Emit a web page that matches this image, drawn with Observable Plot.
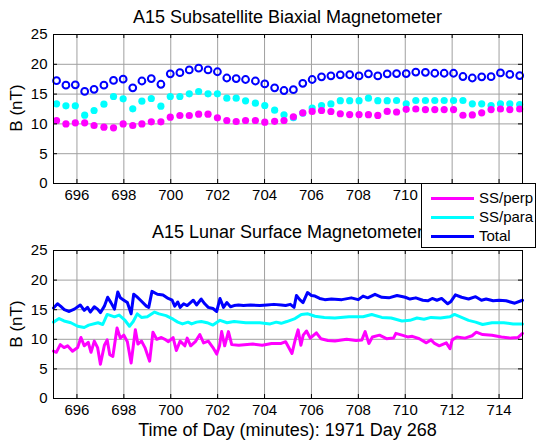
<!DOCTYPE html>
<html><head><meta charset="utf-8">
<script src="https://cdn.jsdelivr.net/npm/d3@7"></script>
<script src="https://cdn.jsdelivr.net/npm/@observablehq/plot@0.6"></script>
<style>
body{margin:0;background:#fff;}
#wrap{position:relative;width:537px;height:445px;overflow:hidden;font-family:"Liberation Sans",Arial,sans-serif;color:#000;}
.abs{position:absolute;}
.ttl{font-size:18px;line-height:20px;text-align:center;white-space:nowrap;}
.ylab{font-size:17px;line-height:20px;width:100px;text-align:center;transform:rotate(-90deg);white-space:nowrap;}
#legend{position:absolute;left:421px;top:183px;width:115px;height:65px;box-sizing:border-box;border:1px solid #000;background:#fff;font-size:15px;z-index:5;}
.lrow{position:absolute;left:0;height:18px;width:110px;}
.lline{position:absolute;left:9px;width:43px;height:3px;top:8px;}
.ltxt{position:absolute;left:57px;top:0;line-height:18px;white-space:nowrap;}
</style></head>
<body><div id="wrap"></div>
<script>
// ---- axis ticks ----
const xTicks = [696, 698, 700, 702, 704, 706, 708, 710, 712, 714];
const yTicks = [0, 5, 10, 15, 20, 25];

// ---- A15 Subsatellite (top) ----
const ssTime = [695.13, 695.53, 695.93, 696.33, 696.73, 697.15, 697.56, 697.97, 698.38, 698.77, 699.17, 699.58, 699.98, 700.39, 700.79, 701.19, 701.59, 701.99, 702.39, 702.79, 703.19, 703.61, 704.01, 704.43, 704.83, 705.23, 705.63, 706.03, 706.43, 706.83, 707.23, 707.63, 708.03, 708.43, 708.83, 709.23, 709.63, 710.04, 710.45, 710.86, 711.26, 711.66, 712.06, 712.46, 712.86, 713.26, 713.66, 714.06, 714.46, 714.88];
const ssPerp = [10.57, 10.0, 10.18, 10.18, 9.73, 9.45, 9.34, 10.0, 9.73, 10.0, 10.35, 10.35, 11.12, 11.41, 11.41, 11.63, 11.63, 11.02, 10.57, 10.4, 10.57, 10.57, 10.29, 10.43, 10.57, 11.18, 11.85, 12.1, 12.25, 12.08, 11.7, 11.57, 11.57, 11.55, 11.43, 12.1, 12.0, 12.45, 12.5, 12.4, 12.4, 12.4, 12.4, 11.45, 11.5, 11.85, 12.4, 12.5, 12.4, 12.5];
const ssPara = [13.37, 13.03, 13.03, 11.46, 12.25, 13.31, 14.6, 14.2, 12.53, 13.81, 14.26, 12.97, 14.6, 14.6, 15.05, 15.44, 15.05, 15.05, 14.31, 14.31, 13.87, 13.47, 13.09, 12.3, 11.52, 11.05, 11.8, 12.65, 13.09, 13.35, 13.9, 13.9, 13.9, 14.31, 13.9, 13.9, 13.93, 13.37, 13.93, 13.93, 13.93, 13.93, 13.93, 13.93, 13.37, 13.37, 13.09, 13.37, 13.37, 13.25];
const ssTotal = [17.25, 16.5, 16.55, 15.45, 15.8, 16.5, 17.3, 17.5, 16.05, 17.2, 17.6, 16.65, 18.4, 18.6, 19.05, 19.35, 19.05, 18.75, 17.7, 17.6, 17.45, 17.2, 16.7, 16.05, 15.6, 15.75, 16.8, 17.45, 17.9, 18.07, 18.23, 18.25, 18.05, 18.4, 18.05, 18.4, 18.45, 18.45, 18.7, 18.65, 18.5, 18.5, 18.5, 17.95, 17.7, 17.9, 17.92, 18.55, 18.3, 18.1];

// ---- A15 Lunar Surface (bottom) ----
const lsTotalTime = [695.0, 695.17, 695.3, 695.46, 695.67, 695.89, 696.14, 696.31, 696.45, 696.57, 696.74, 696.88, 697.0, 697.17, 697.31, 697.45, 697.6, 697.74, 697.85, 698.0, 698.15, 698.31, 698.42, 698.55, 698.71, 698.96, 699.06, 699.2, 699.43, 699.67, 699.89, 700.06, 700.17, 700.3, 700.4, 700.55, 700.7, 700.96, 701.1, 701.3, 701.45, 701.6, 701.8, 701.96, 702.1, 702.25, 702.39, 702.55, 702.7, 702.89, 703.1, 703.4, 703.8, 704.1, 704.4, 704.71, 704.9, 705.1, 705.26, 705.36, 705.5, 705.64, 705.83, 706.0, 706.15, 706.35, 706.57, 706.85, 707.3, 707.7, 708.0, 708.2, 708.4, 708.71, 709.0, 709.3, 709.65, 710.0, 710.2, 710.45, 710.75, 710.96, 711.15, 711.35, 711.55, 711.81, 711.95, 712.14, 712.4, 712.7, 713.0, 713.25, 713.45, 713.75, 714.0, 714.3, 714.67, 715.0];
const lsTotalB = [15.3, 16.0, 15.6, 15.0, 14.7, 15.1, 15.8, 14.9, 15.4, 14.6, 15.5, 15.1, 14.5, 15.6, 17.1, 16.2, 15.1, 18.0, 17.0, 16.6, 16.2, 14.3, 17.6, 17.2, 16.6, 15.6, 15.4, 18.1, 17.6, 17.5, 16.9, 16.6, 15.6, 16.3, 15.4, 16.0, 15.7, 16.6, 15.8, 16.8, 16.0, 15.4, 15.2, 14.7, 16.9, 15.4, 16.2, 15.5, 15.7, 15.8, 15.7, 15.8, 15.7, 15.8, 15.9, 15.8, 15.7, 15.9, 15.4, 17.4, 16.7, 16.2, 17.9, 17.4, 17.3, 16.9, 16.7, 16.8, 16.7, 17.0, 16.7, 17.3, 17.0, 17.6, 17.1, 17.0, 17.4, 17.1, 16.8, 17.0, 16.6, 16.5, 16.9, 16.6, 16.9, 16.0, 16.4, 17.5, 17.1, 16.8, 17.2, 16.6, 16.8, 16.5, 16.6, 16.5, 16.1, 16.6];
const lsParaTime = [695.0, 695.24, 695.45, 695.74, 696.03, 696.31, 696.5, 696.9, 697.1, 697.29, 697.45, 697.6, 697.8, 698.03, 698.24, 698.4, 698.57, 698.75, 699.0, 699.31, 699.5, 699.8, 700.1, 700.3, 700.5, 700.74, 700.89, 701.1, 701.3, 701.55, 701.8, 702.1, 702.4, 702.7, 703.2, 703.8, 704.24, 704.5, 704.71, 704.95, 705.3, 705.57, 705.85, 706.15, 706.55, 707.0, 707.6, 708.2, 708.57, 709.0, 709.4, 709.86, 710.2, 710.5, 710.8, 711.1, 711.5, 711.9, 712.1, 712.4, 712.7, 713.0, 713.3, 713.7, 714.2, 714.6, 715.0];
const lsParaB = [12.9, 13.5, 13.1, 12.8, 12.2, 12.0, 12.4, 12.8, 12.5, 14.2, 14.0, 13.8, 14.1, 13.3, 12.2, 13.0, 14.3, 13.7, 13.8, 14.6, 14.3, 14.0, 13.4, 12.9, 12.6, 12.9, 12.6, 12.9, 13.0, 12.8, 12.4, 13.2, 12.8, 13.0, 12.8, 12.8, 12.6, 12.9, 12.7, 13.0, 13.5, 14.2, 14.3, 13.9, 13.7, 13.6, 13.8, 13.8, 14.2, 13.7, 13.6, 13.1, 13.2, 13.6, 13.4, 13.7, 13.6, 13.8, 14.2, 13.7, 13.2, 12.9, 12.5, 12.8, 12.8, 12.6, 12.6];
const lsPerpTime = [695.0, 695.12, 695.29, 695.45, 695.6, 695.81, 696.03, 696.17, 696.31, 696.48, 696.6, 696.74, 696.88, 697.0, 697.17, 697.29, 697.4, 697.53, 697.71, 697.85, 698.0, 698.15, 698.31, 698.49, 698.6, 698.75, 698.9, 699.1, 699.24, 699.4, 699.6, 699.75, 699.9, 700.1, 700.24, 700.4, 700.6, 700.7, 700.85, 701.05, 701.24, 701.4, 701.6, 701.8, 701.96, 702.08, 702.17, 702.3, 702.46, 702.6, 702.9, 703.5, 703.9, 704.3, 704.71, 704.9, 705.17, 705.3, 705.43, 705.55, 705.65, 705.79, 705.95, 706.21, 706.4, 706.7, 707.0, 707.5, 707.9, 708.15, 708.29, 708.45, 708.6, 708.9, 709.2, 709.5, 709.6, 709.86, 710.1, 710.3, 710.6, 710.9, 711.1, 711.25, 711.45, 711.75, 711.91, 712.0, 712.2, 712.55, 712.85, 713.03, 713.3, 713.7, 714.1, 714.5, 714.8, 715.0];
const lsPerpB = [8.0, 7.8, 9.1, 8.6, 8.9, 8.0, 8.6, 10.3, 8.9, 9.5, 7.8, 9.7, 8.6, 5.8, 9.0, 9.9, 7.4, 7.1, 11.9, 10.2, 10.7, 9.6, 6.0, 11.6, 9.2, 9.7, 8.6, 6.3, 11.2, 10.0, 10.3, 10.0, 9.6, 10.3, 8.1, 9.7, 8.9, 10.2, 8.9, 9.6, 10.8, 9.4, 9.7, 8.6, 7.5, 8.9, 11.3, 8.9, 11.3, 9.1, 9.0, 9.2, 9.0, 9.3, 9.3, 9.6, 7.6, 9.8, 11.6, 9.0, 10.7, 11.4, 10.2, 11.1, 10.1, 9.8, 9.7, 10.0, 9.8, 9.9, 11.3, 9.3, 10.4, 10.7, 10.1, 10.2, 11.0, 10.7, 10.4, 10.5, 10.1, 9.4, 9.9, 9.3, 8.9, 9.4, 8.4, 9.9, 10.4, 10.2, 10.6, 11.2, 10.8, 10.7, 10.4, 10.2, 10.3, 11.0];

const MAG = "#ff00ff", CYA = "#00ffff", BLU = "#0000ff";
const GRID = "#a0a0a0";
const W = 537, ML = 53, MR = 15;

// labelTicks: tick labels that are drawn (the legend box covers the rest in the top panel)
function panel(height, mt, mb, dataMarks, labelTicks) {
  const innerH = height - mt - mb;
  return Plot.plot({
    width: W, height,
    marginLeft: ML, marginRight: MR, marginTop: mt, marginBottom: mb,
    x: {domain: [695, 715]},
    y: {domain: [0, 25]},
    style: {fontFamily: "'Liberation Sans', Arial, sans-serif", fontSize: "15px", background: "transparent", color: "#000", overflow: "visible"},
    marks: [
      Plot.gridX(xTicks, {stroke: GRID, strokeOpacity: 1}),
      Plot.gridY(yTicks, {stroke: GRID, strokeOpacity: 1}),
      ...dataMarks,
      Plot.tickX(xTicks, {x: d => d, insetTop: innerH - 4, stroke: "#000"}),
      Plot.tickX(xTicks, {x: d => d, insetBottom: innerH - 4, stroke: "#000"}),
      Plot.tickY(yTicks, {y: d => d, insetRight: W - ML - MR - 4, stroke: "#000"}),
      Plot.tickY(yTicks, {y: d => d, insetLeft: W - ML - MR - 4, stroke: "#000"}),
      Plot.frame({stroke: "#000"}),
      Plot.axisX(labelTicks, {tickSize: 0, tickPadding: 6, label: null}),
      Plot.axisY(yTicks, {tickSize: 0, tickPadding: 6, label: null})
    ]
  });
}

const top1 = panel(210, 34, 27, [
  Plot.dot(ssPara, {x: (d, i) => ssTime[i], y: d => d, r: 3.6, fill: CYA, stroke: "none"}),
  Plot.dot(ssPerp, {x: (d, i) => ssTime[i], y: d => d, r: 3.6, fill: MAG, stroke: "none"}),
  Plot.dot(ssTotal, {x: (d, i) => ssTime[i], y: d => d, r: 3.4, fill: "none", stroke: BLU, strokeWidth: 2})
], xTicks.filter(t => t <= 710));
const bot1 = panel(235, 40, 47, [
  Plot.line(lsPerpB, {x: (d, i) => lsPerpTime[i], y: d => d, stroke: MAG, strokeWidth: 3}),
  Plot.line(lsParaB, {x: (d, i) => lsParaTime[i], y: d => d, stroke: CYA, strokeWidth: 3}),
  Plot.line(lsTotalB, {x: (d, i) => lsTotalTime[i], y: d => d, stroke: BLU, strokeWidth: 3})
], xTicks);

const wrap = document.getElementById("wrap");
function place(el, left, top) { el.style.position = "absolute"; el.style.left = left + "px"; el.style.top = top + "px"; wrap.appendChild(el); return el; }
place(top1, 0, 0);
place(bot1, 0, 210);

function addDiv(cls, text, css) {
  const d = document.createElement("div");
  d.className = "abs " + cls;
  d.textContent = text;
  Object.assign(d.style, css);
  wrap.appendChild(d);
  return d;
}
addDiv("ttl", "A15 Subsatellite Biaxial Magnetometer", {left: "53px", width: "469px", top: "7px"});
addDiv("ttl", "A15 Lunar Surface Magnetometer", {left: "53px", width: "469px", top: "222px"});
addDiv("ttl", "Time of Day (minutes): 1971 Day 268", {left: "53px", width: "469px", top: "420px"});
addDiv("ylab", "B (nT)", {left: "-33px", top: "98px"});
addDiv("ylab", "B (nT)", {left: "-33px", top: "314px"});

// legend
const legendItems = ["SS/perp", "SS/para", "Total"];
const legendColors = [MAG, CYA, BLU];
const lg = document.createElement("div");
lg.id = "legend";
const rowTops = [5, 24, 43];
legendItems.forEach((name, i) => {
  const r = document.createElement("div");
  r.className = "lrow";
  r.style.top = rowTops[i] + "px";
  const ln = document.createElement("div");
  ln.className = "lline";
  ln.style.background = legendColors[i];
  const tx = document.createElement("div");
  tx.className = "ltxt";
  tx.textContent = name;
  r.appendChild(ln); r.appendChild(tx);
  lg.appendChild(r);
});
wrap.appendChild(lg);
</script>
</body></html>
